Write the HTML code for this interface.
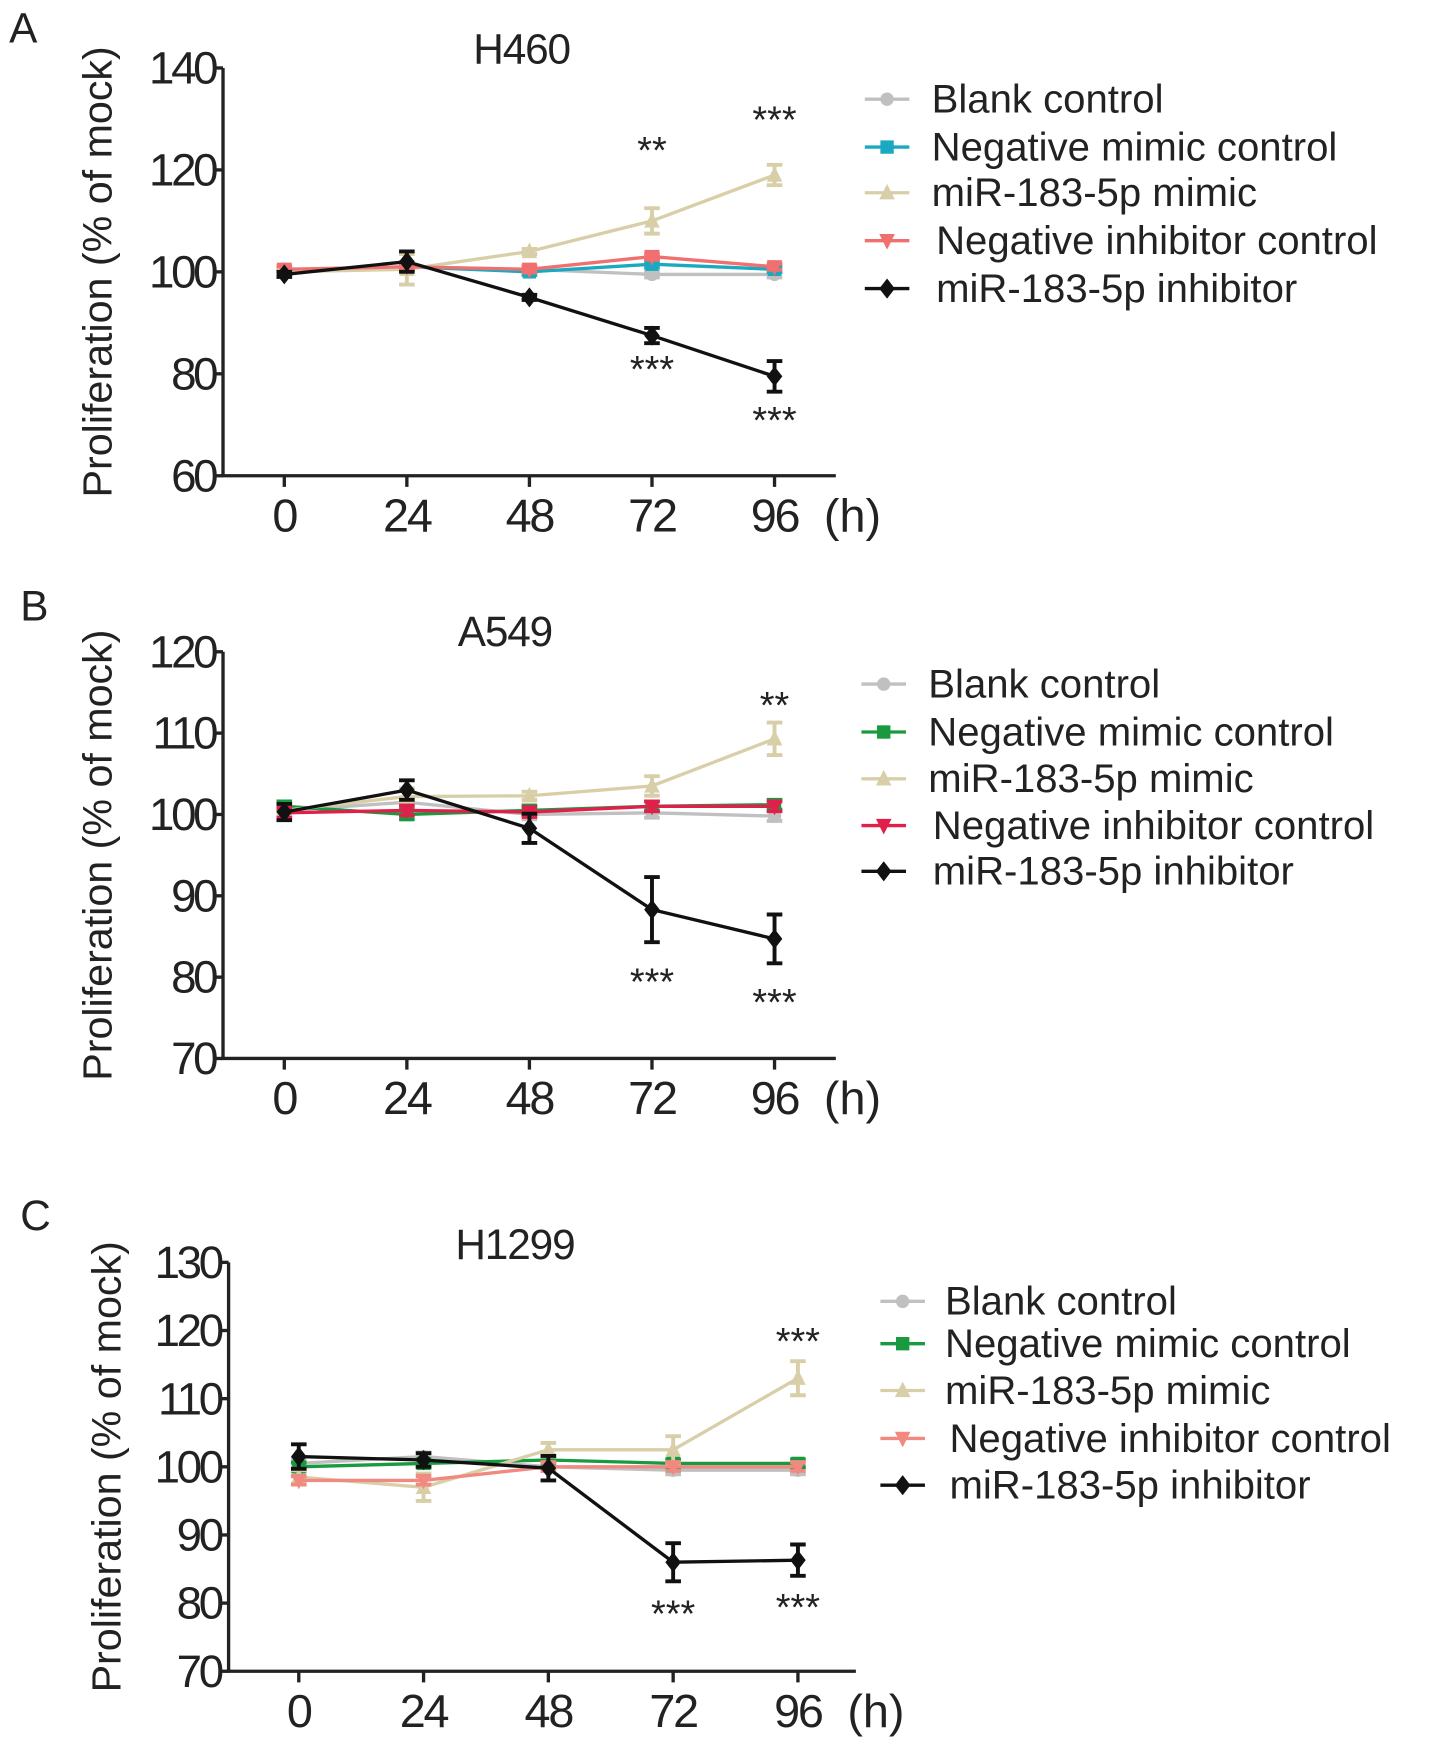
<!DOCTYPE html>
<html><head><meta charset="utf-8"><style>
html,body{margin:0;padding:0;background:#fff}
svg{display:block}
text{font-family:"Liberation Sans",Arial,sans-serif;fill:#222}
</style></head><body>
<svg id="fig" width="1441" height="1737" viewBox="0 0 1293 1559" xmlns="http://www.w3.org/2000/svg"></svg>
<script>
const hours = [0, 24, 48, 72, 96];
const seriesNames = ["Blank control","Negative mimic control","miR-183-5p mimic","Negative inhibitor control","miR-183-5p inhibitor"];
// Panel A (H460)
const aBlank = [100, 101, 100.5, 99.5, 99.5];
const aNegMimic = [100, 101, 100, 101.5, 100.5];
const aMimic = [100, 100.5, 104, 110, 119];
const aMimicErr = [0.5, 3, 0.5, 2.5, 2];
const aNegInh = [100.5, 101, 100.5, 103, 101];
const aInh = [99.5, 102, 95, 87.5, 79.5];
const aInhErr = [0.5, 2, 0.5, 1.5, 3];
const aTicks = [60, 80, 100, 120, 140];
// Panel B (A549)
const bBlank = [100.5, 101.5, 100, 100.2, 99.8];
const bNegMimic = [101, 100, 100.5, 101, 101.2];
const bMimic = [100.5, 102.2, 102.3, 103.5, 109.3];
const bMimicErr = [0.5, 1, 0.5, 1.2, 2];
const bNegInh = [100.2, 100.5, 100.3, 101, 101];
const bInh = [100.3, 103, 98.3, 88.3, 84.7];
const bInhErr = [1, 1.2, 1.8, 4, 3];
const bTicks = [70, 80, 90, 100, 110, 120];
// Panel C (H1299)
const cBlank = [100.5, 101.5, 100, 99.5, 99.5];
const cNegMimic = [100, 100.5, 101, 100.5, 100.5];
const cMimic = [98.5, 97, 102.5, 102.5, 113];
const cMimicErr = [1, 2, 1, 2, 2.5];
const cNegInh = [98, 98, 100, 100, 100];
const cInh = [101.5, 101, 99.8, 86, 86.3];
const cInhErr = [1.8, 1, 1.8, 2.8, 2.3];
const cTicks = [70, 80, 90, 100, 110, 120, 130];

const NS = "http://www.w3.org/2000/svg";
const svg = document.getElementById("fig");
function mk(tag, attrs, parent) {
  const e = document.createElementNS(NS, tag);
  for (const k in attrs) e.setAttribute(k, attrs[k]);
  (parent || svg).appendChild(e);
  return e;
}
function marker(g, shape, x, y, color) {
  let m;
  if (shape === "circle") m = mk("circle", {cx:x, cy:y, r:6, fill:color}, g);
  else if (shape === "square") m = mk("rect", {x:x-6, y:y-6, width:12, height:12, fill:color}, g);
  else if (shape === "up") m = mk("polygon", {points:`${x},${y-8} ${x-7},${y+6} ${x+7},${y+6}`, fill:color}, g);
  else if (shape === "down") m = mk("polygon", {points:`${x},${y+8} ${x-7},${y-6} ${x+7},${y-6}`, fill:color}, g);
  else m = mk("polygon", {points:`${x},${y-9} ${x+7},${y} ${x},${y+9} ${x-7},${y}`, fill:color}, g);
  return m;
}

function panel(cfg) {
  const g = mk("g", {});
  
  
  const yv = v => cfg.yTop + (cfg.yMax - v) / (cfg.yMax - cfg.yMin) * (cfg.yBot - cfg.yTop);
  const xv = h => cfg.x0 + h / 96 * (cfg.x96 - cfg.x0);
  const L = mk("text", {x:cfg.letter[0], y:cfg.letter[1], "font-size":38}, g);
  L.textContent = cfg.letterText;
  
  
  const T = mk("text", {x:cfg.title[0], y:cfg.title[1], "font-size":38, "text-anchor":"middle", "letter-spacing":"-1"}, g);
  T.textContent = cfg.titleText;
  
  
  const ax = mk("path", {d:`M${cfg.ax},${cfg.yTop} V${cfg.yBot} H${cfg.axEnd}`, stroke:"#222", "stroke-width":3, fill:"none"}, g);
  
  
  cfg.ticks.forEach(t => {
    const y = yv(t);
    mk("line", {x1:cfg.ax-9, x2:cfg.ax, y1:y, y2:y, stroke:"#222", "stroke-width":3}, g);
    const tt = mk("text", {x:cfg.ax-7, y:y+14, "font-size":41, "text-anchor":"end", "letter-spacing":"-3"}, g);
    tt.textContent = t;
    
    
  });
  hours.forEach(h => {
    const x = xv(h);
    mk("line", {x1:x, x2:x, y1:cfg.yBot, y2:cfg.yBot+10, stroke:"#222", "stroke-width":3}, g);
    const tt = mk("text", {x:x, y:cfg.yBot+50, "font-size":42, "text-anchor":"middle", "letter-spacing":"-2"}, g);
    tt.textContent = h;
    
    
  });
  const hu = mk("text", {x:xv(96)+70, y:cfg.yBot+50, "font-size":42, "text-anchor":"middle"}, g);
  hu.textContent = "(h)";
  
  
  const yt = mk("text", {x:0, y:0, "font-size":37, "text-anchor":"middle", transform:`translate(${cfg.ytx},${(cfg.yTop+cfg.yBot)/2}) rotate(-90)`}, g);
  yt.textContent = "Proliferation (% of mock)";
  
  
  const shapes = ["circle","square","up","down","diamond"];
  cfg.series.forEach((s, i) => {
    const sg = mk("g", {}, g);
    
    
    const pts = s.vals.map((v, j) => [xv(hours[j]), yv(v)]);
    mk("polyline", {points:pts.map(p=>p.join(",")).join(" "), fill:"none", stroke:cfg.colors[i], "stroke-width":3}, sg);
    pts.forEach((p, j) => {
      const e = s.err ? s.err[j] : 0.6;
      const y1 = yv(s.vals[j] + e), y2 = yv(s.vals[j] - e);
      mk("path", {d:`M${p[0]},${y1} V${y2} M${p[0]-7},${y1} H${p[0]+7} M${p[0]-7},${y2} H${p[0]+7}`, stroke:cfg.colors[i], "stroke-width":3.5, fill:"none"}, sg);
      const m = marker(sg, shapes[i], p[0], p[1], cfg.colors[i]);
      
      
    });
  });
  cfg.stars.forEach(s => {
    const st = mk("text", {x:xv(s[0]), y:yv(s[1])+12, "font-size":34, "text-anchor":"middle"}, g);
    st.textContent = s[2];
    
    
  });
  cfg.legendY.forEach((ly, i) => {
    const lg = mk("g", {}, g);
    
    
    mk("line", {x1:cfg.legX-20, x2:cfg.legX+20, y1:ly, y2:ly, stroke:cfg.colors[i], "stroke-width":3}, lg);
    marker(lg, shapes[i], cfg.legX, ly, cfg.colors[i]);
    const lt = mk("text", {x:cfg.legTX + (i>=3?4:0), y:ly+12, "font-size":36}, lg);
    lt.textContent = seriesNames[i];
  });
}

panel({name:"panel-a-h460", letterText:"A", letter:[8,38], titleText:"H460", title:[468,57],
  ax:200, axEnd:750, yTop:61, yBot:427, yMin:60, yMax:140, x0:255, x96:695, ytx:100, ticks:aTicks,
  colors:["#c0c0c0","#1aa9c0","#d8cfa8","#f07070","#111"],
  series:[{vals:aBlank},{vals:aNegMimic},{vals:aMimic,err:aMimicErr},{vals:aNegInh},{vals:aInh,err:aInhErr}],
  stars:[[72,124,"**"],[96,130,"***"],[72,81,"***"],[96,71,"***"]],
  legX:796, legTX:836, legendY:[89,132,173,216,259]});
panel({name:"panel-b-a549", letterText:"B", letter:[18,557], titleText:"A549", title:[453,580],
  ax:200, axEnd:750, yTop:585, yBot:950, yMin:70, yMax:120, x0:255, x96:695, ytx:100, ticks:bTicks,
  colors:["#c0c0c0","#1a9a40","#d8cfa8","#e0204a","#111"],
  series:[{vals:bBlank},{vals:bNegMimic},{vals:bMimic,err:bMimicErr},{vals:bNegInh},{vals:bInh,err:bInhErr}],
  stars:[[96,113.5,"**"],[72,79.5,"***"],[96,77,"***"]],
  legX:793, legTX:833, legendY:[614,657,699,741,782]});
panel({name:"panel-c-h1299", letterText:"C", letter:[18,1104], titleText:"H1299", title:[462,1130],
  ax:205, axEnd:768, yTop:1133, yBot:1500, yMin:70, yMax:130, x0:268, x96:716, ytx:108, ticks:cTicks,
  colors:["#c0c0c0","#1a9a40","#d8cfa8","#f08a80","#111"],
  series:[{vals:cBlank},{vals:cNegMimic},{vals:cMimic,err:cMimicErr},{vals:cNegInh},{vals:cInh,err:cInhErr}],
  stars:[[96,118.5,"***"],[72,78.5,"***"],[96,79.5,"***"]],
  legX:810, legTX:848, legendY:[1168,1206,1248,1291,1333]});
</script>
</body></html>
